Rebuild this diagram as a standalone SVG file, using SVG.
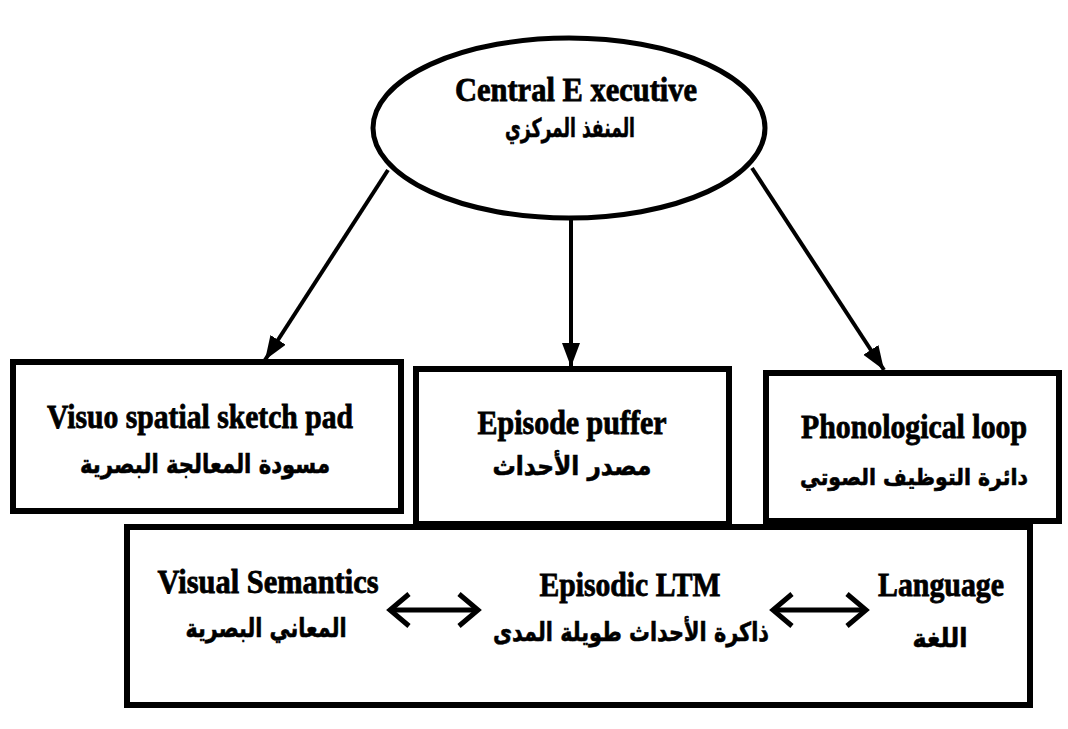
<svg xmlns="http://www.w3.org/2000/svg" width="1068" height="729" viewBox="0 0 1068 729">
<style>
.en{font-family:"Liberation Serif","Times New Roman",serif;font-weight:bold;font-size:34px;fill:#000;stroke:#000;stroke-width:0.8;text-anchor:middle}
.ar{font-family:"DejaVu Sans","Noto Sans",sans-serif;font-weight:bold;font-size:26px;fill:#000;stroke:#000;stroke-width:0.6;text-anchor:middle}
.box{fill:none;stroke:#000;stroke-width:6}
.conn{stroke:#000;stroke-width:4;fill:none}
.dbl{stroke:#000;stroke-width:5;fill:none}
</style>
<defs>
<marker id="tri" markerUnits="userSpaceOnUse" markerWidth="26" markerHeight="20" refX="24" refY="9" orient="auto">
<path d="M0,0 L24,9 L0,18 z" fill="#000"/>
</marker>
<marker id="chev" markerUnits="userSpaceOnUse" markerWidth="26" markerHeight="40" refX="22" refY="19" orient="auto-start-reverse">
<path d="M3,3 L22,19 L3,35" fill="none" stroke="#000" stroke-width="5"/>
</marker>
</defs>
<rect width="1068" height="729" fill="#fff"/>
<g id="connectors">
<line class="conn" x1="388" y1="170" x2="265" y2="360" marker-end="url(#tri)"/>
<line class="conn" x1="571" y1="218" x2="571" y2="367" marker-end="url(#tri)"/>
<line class="conn" x1="752" y1="168" x2="884" y2="370" marker-end="url(#tri)"/>
<line class="dbl" x1="390" y1="610" x2="478" y2="610" marker-start="url(#chev)" marker-end="url(#chev)"/>
<line class="dbl" x1="773" y1="610" x2="866" y2="610" marker-start="url(#chev)" marker-end="url(#chev)"/>
</g>
<g id="central-executive">
<ellipse cx="569" cy="128" rx="196" ry="90" fill="none" stroke="#000" stroke-width="5"/>
<text class="en" x="576" y="101" textLength="242" lengthAdjust="spacingAndGlyphs">Central E xecutive</text>
<text class="ar" x="570" y="137" textLength="130" lengthAdjust="spacingAndGlyphs">المنفذ المركزي</text>
</g>
<g id="visuo-spatial">
<rect class="box" x="13" y="362" width="388" height="149"/>
<text class="en" x="200" y="428" textLength="306" lengthAdjust="spacingAndGlyphs">Visuo spatial sketch pad</text>
<text class="ar" x="205" y="473" textLength="250" lengthAdjust="spacingAndGlyphs">مسودة المعالجة البصرية</text>
</g>
<g id="episode-buffer">
<rect class="box" x="416" y="369" width="313" height="155"/>
<text class="en" x="572" y="434" textLength="189" lengthAdjust="spacingAndGlyphs">Episode puffer</text>
<text class="ar" x="572" y="475" textLength="159" lengthAdjust="spacingAndGlyphs">مصدر الأحداث</text>
</g>
<g id="phonological-loop">
<rect class="box" x="766" y="373" width="293" height="148"/>
<text class="en" x="914" y="438" textLength="226" lengthAdjust="spacingAndGlyphs">Phonological loop</text>
<text class="ar" x="914" y="485" style="font-size:23px" textLength="228" lengthAdjust="spacingAndGlyphs">دائرة التوظيف الصوتي</text>
</g>
<g id="long-term-memory">
<rect class="box" x="127" y="527" width="903" height="178"/>
</g>
<g id="visual-semantics">
<text class="en" x="268" y="593" textLength="221" lengthAdjust="spacingAndGlyphs">Visual Semantics</text>
<text class="ar" x="266" y="637" textLength="161" lengthAdjust="spacingAndGlyphs">المعاني البصرية</text>
</g>
<g id="episodic-ltm">
<text class="en" x="630" y="596" textLength="181" lengthAdjust="spacingAndGlyphs">Episodic LTM</text>
<text class="ar" x="631" y="641" textLength="276" lengthAdjust="spacingAndGlyphs">ذاكرة الأحداث طويلة المدى</text>
</g>
<g id="language">
<text class="en" x="941" y="596" textLength="126" lengthAdjust="spacingAndGlyphs">Language</text>
<text class="ar" x="940" y="647" textLength="55" lengthAdjust="spacingAndGlyphs">اللغة</text>
</g>
</svg>
